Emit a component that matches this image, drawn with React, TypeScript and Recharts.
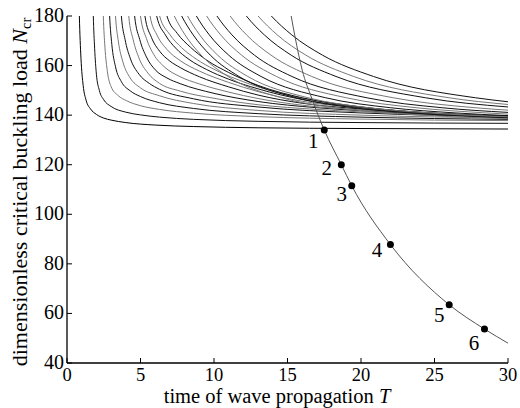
import React from "react";
import { ComposedChart, Line, XAxis, YAxis, LabelList } from "recharts";

const serif = '"Liberation Serif", "Times New Roman", serif';

const xTicks = [0, 5, 10, 15, 20, 25, 30];
const yTicks = [40, 60, 80, 100, 120, 140, 160, 180];

// buckling mode curves, [T, Ncr] pairs
const mode01 = [[0.8, 190], [0.84, 180], [0.95, 163], [1.1, 152], [1.3, 146], [1.6, 142.5], [2, 140.3], [2.5, 138.8], [3, 138], [4, 137], [6, 136], [8.6, 135.4], [13, 134.9], [20, 134.6], [30, 134.4]];
const mode02 = [[1.75, 190], [1.79, 180], [1.88, 167], [2.0, 156.5], [2.2, 150], [2.5, 146.2], [3, 143.5], [4, 141.2], [5, 140.1], [6.3, 139.2], [8.6, 138.3], [13, 137.5], [20, 137], [30, 136.7]];
const mode03 = [[2.42, 190], [2.47, 180], [2.58, 167.5], [2.75, 157.5], [3, 151.5], [3.5, 147.8], [4.06, 145.8], [5, 143.8], [6.3, 142.3], [8.6, 140.8], [13, 139.4], [20, 138.4], [30, 137.8]];
const mode04 = [[2.83, 190], [2.9, 180], [3.05, 168.5], [3.3, 159.5], [3.7, 153.5], [4.3, 149.8], [5, 147.5], [6.3, 145], [8.6, 142.7], [13, 140.6], [20, 139.2], [30, 138.3]];
const mode05 = [[3.21, 190], [3.3, 180], [3.5, 169.5], [3.8, 161.5], [4.3, 155], [5, 151], [6.3, 147.8], [8.6, 144.7], [13, 141.9], [20, 140], [30, 138.9]];
const mode06 = [[3.59, 190], [3.7, 180], [3.95, 170.5], [4.3, 163], [4.9, 156.5], [5.6, 152.8], [6.3, 150.4], [8.6, 146.6], [13, 143.3], [20, 140.9], [30, 139.4]];
const mode07 = [[4.08, 190], [4.2, 180], [4.5, 170.5], [4.9, 163], [5.5, 157], [6.3, 152.8], [7.7, 149.7], [10, 146.8], [13, 144.2], [17, 142.3], [20, 141.3], [25, 140.2], [30, 139.5]];
const mode08 = [[4.47, 190], [4.6, 180], [4.95, 170.5], [5.4, 163.5], [6, 158.3], [6.8, 155], [7.7, 152.7], [10, 148.8], [13, 145.5], [17, 143], [20, 141.8], [25, 140.4], [30, 139.6]];
const mode09 = [[4.86, 190], [5, 180], [5.4, 171], [5.9, 164.5], [6.6, 159.6], [7.7, 155.5], [9, 152.6], [11, 149.3], [13, 146.7], [16, 144], [20, 142.1], [25, 140.6], [30, 139.6]];
const mode10 = [[5.15, 190], [5.3, 180], [5.75, 171.3], [6.3, 165.8], [7, 161.8], [7.7, 159.2], [9, 155.5], [11, 151.4], [13, 148.1], [16, 144.8], [20, 142.5], [25, 140.7], [30, 139.6]];
const mode11 = [[5.47, 190], [5.65, 180], [6.15, 172], [6.8, 166.5], [7.7, 162], [9, 157.8], [11, 153.2], [13, 149.5], [16, 145.6], [20, 142.9], [25, 140.8], [30, 139.5]];
const mode12 = [[5.9, 190], [6.1, 180], [6.7, 172.3], [7.4, 167], [8.3, 162.5], [9.5, 158.4], [11, 154.5], [13, 150.6], [16, 146.3], [20, 143.1], [25, 140.8], [30, 139.4]];
const mode13 = [[6.07, 190], [6.3, 180], [7, 172.5], [7.8, 167.2], [8.8, 162.6], [10, 158.5], [11.5, 154.6], [13, 151.4], [16, 146.8], [20, 143.3], [25, 140.8], [30, 139.2]];
const mode14 = [[6.55, 190], [6.8, 180], [7.5, 173], [8.4, 167.4], [9.5, 162.2], [11, 157.2], [13, 152], [16, 147], [20, 143.3], [25, 140.6], [30, 138.9]];
const mode15 = [[6.94, 184.8], [7.3, 180], [8.03, 172.4], [9.13, 164.2], [10.95, 155.6], [14.6, 147], [18.25, 143], [21.9, 140.9], [30, 138.6]];
const mode16 = [[7.41, 184.8], [7.8, 180], [8.58, 172.4], [9.75, 164.2], [11.7, 155.6], [15.6, 147], [19.5, 143], [23.4, 140.9], [30, 139]];
const mode17 = [[7.79, 184.8], [8.2, 180], [9.02, 172.4], [10.25, 164.2], [12.3, 155.6], [16.4, 147], [20.5, 143], [24.6, 140.9], [30, 139.3]];
const mode18 = [[8.36, 184.8], [8.8, 180], [9.68, 172.4], [11, 164.2], [13.2, 155.6], [17.6, 147], [22, 143], [26.4, 140.9], [30, 139.8]];
const mode19 = [[9.03, 184.8], [9.5, 180], [10.45, 172.4], [11.88, 164.2], [14.25, 155.6], [19, 147], [23.75, 143], [28.5, 140.9], [30, 140.4]];
const mode20 = [[9.69, 184.8], [10.2, 180], [11.22, 172.4], [12.75, 164.2], [15.3, 155.6], [20.4, 147], [25.5, 143], [30, 141.1]];
const mode21 = [[10.55, 184.8], [11.1, 180], [12.21, 172.4], [13.88, 164.2], [16.65, 155.6], [22.2, 147], [27.75, 143], [30, 142]];
const mode22 = [[11.59, 184.8], [12.2, 180], [13.42, 172.4], [15.25, 164.2], [18.3, 155.6], [24.4, 147], [30, 143.3]];
const mode23 = [[12.35, 184.8], [13, 180], [14.3, 172.4], [16.25, 164.2], [19.5, 155.6], [26, 147], [30, 144.3]];
const mode24 = [[13.2, 184.8], [13.9, 180], [15.29, 172.4], [17.38, 164.2], [20.85, 155.6], [27.8, 147], [30, 145.4]];

const modeCurves = [
  mode01, mode02, mode03, mode04, mode05, mode06, mode07, mode08, mode09, mode10, mode11, mode12,
  mode13, mode14, mode15, mode16, mode17, mode18, mode19, mode20, mode21, mode22, mode23, mode24,
];
const modeColors = [
  "#000", "#111", "#777", "#111", "#777", "#111", "#777", "#111", "#777", "#111", "#777", "#111",
  "#777", "#111", "#777", "#111", "#777", "#111", "#777", "#111", "#777", "#111", "#777", "#111",
];

// critical load vs. propagation time
const loadCurve = [[15.13, 184], [15.25, 180], [15.5, 172], [16, 158.2], [16.65, 146.8], [17.5, 134], [18.66, 120], [19.37, 111.5], [22, 87.8], [26, 63.5], [28.4, 53.7], [30, 48]];

const markT = [17.5, 18.66, 19.37, 22.0, 26.0, 28.4];
const markN = [134, 120, 111.5, 87.8, 63.5, 53.7];
const markLabels = ["1", "2", "3", "4", "5", "6"];
// label offsets from the dot (dx, baseline dy)
const labelDx = [-11, -14.5, -10, -13.5, -10, -10.5];
const labelDy = [17.5, 10, 15, 12.5, 17.5, 20.5];

const toRows = (pts: number[][]) => pts.map(([t, n]) => ({ t, n }));
const markRows = markT.map((t, i) => ({ t, n: markN[i], label: markLabels[i] }));

const BottomTick = ({ x, y, payload }: any) => (
  <g>
    <line x1={x} y1={y} x2={x} y2={y - 5} stroke="#000" />
    <text x={x} y={y + 18} textAnchor="middle" fontFamily={serif} fontSize={18.5} fill="#000">
      {payload.value}
    </text>
  </g>
);
const TopTick = ({ x, y }: any) => <line x1={x} y1={y} x2={x} y2={y + 5} stroke="#000" />;
const LeftTick = ({ x, y, payload }: any) => (
  <g>
    <line x1={x} y1={y} x2={x + 5} y2={y} stroke="#000" />
    <text x={x - 3} y={y + 6} textAnchor="end" fontFamily={serif} fontSize={20} fill="#000">
      {payload.value}
    </text>
  </g>
);
const RightTick = ({ x, y }: any) => <line x1={x} y1={y} x2={x - 5} y2={y} stroke="#000" />;

const MarkLabel = (props: any) => {
  const { x, y, value, index } = props;
  return (
    <text x={x + labelDx[index]} y={y + labelDy[index]} textAnchor="middle" fontFamily={serif} fontSize={21} fill="#000">
      {value}
    </text>
  );
};

export default function App() {
  return (
    <div style={{ position: "absolute", left: 0, top: 0, width: 520, height: 408, background: "#fff" }}>
      <ComposedChart width={520} height={408} margin={{ top: 16, right: 12, bottom: 0, left: 0 }}>
        <XAxis
          dataKey="t"
          type="number"
          domain={[0, 30]}
          ticks={xTicks}
          interval={0}
          allowDataOverflow
          height={45}
          tickSize={0}
          tickMargin={0}
          tick={BottomTick}
          axisLine={{ stroke: "#000", strokeWidth: 1.3 }}
        />
        <XAxis
          xAxisId="top"
          orientation="top"
          type="number"
          domain={[0, 30]}
          ticks={xTicks}
          interval={0}
          height={0}
          tickSize={0}
          tickMargin={0}
          tick={TopTick}
          axisLine={{ stroke: "#000", strokeWidth: 1.3 }}
        />
        <YAxis
          type="number"
          domain={[40, 180]}
          ticks={yTicks}
          interval={0}
          allowDataOverflow
          width={67}
          tickSize={0}
          tickMargin={0}
          tick={LeftTick}
          axisLine={{ stroke: "#000", strokeWidth: 1.3 }}
        />
        <YAxis
          yAxisId="right"
          orientation="right"
          type="number"
          domain={[40, 180]}
          ticks={yTicks}
          interval={0}
          width={0}
          tickSize={0}
          tickMargin={0}
          tick={RightTick}
          axisLine={{ stroke: "#000", strokeWidth: 1.3 }}
        />
        {modeCurves.map((c, i) => (
          <Line
            key={i}
            data={toRows(c)}
            dataKey="n"
            type="monotone"
            stroke={modeColors[i]}
            strokeWidth={1}
            dot={false}
            isAnimationActive={false}
          />
        ))}
        <Line
          data={toRows(loadCurve)}
          dataKey="n"
          type="monotone"
          stroke="#555"
          strokeWidth={1}
          dot={false}
          isAnimationActive={false}
        />
        <Line
          data={markRows}
          dataKey="n"
          stroke="none"
          dot={{ r: 3.5, fill: "#000", stroke: "none" }}
          isAnimationActive={false}
        >
          <LabelList dataKey="label" content={MarkLabel} />
        </Line>
      </ComposedChart>
      <svg width={520} height={408} style={{ position: "absolute", left: 0, top: 0, pointerEvents: "none" }}>
        <text transform="translate(27,192) rotate(-90)" textAnchor="middle" fontFamily={serif} fontSize={22} fill="#000">
          dimensionless critical buckling load <tspan fontStyle="italic">N</tspan>
          <tspan fontSize={14.5} dy={4}>cr</tspan>
        </text>
        <text x={277} y={403} textAnchor="middle" fontFamily={serif} fontSize={20.5} fill="#000">
          time of wave propagation <tspan fontStyle="italic">T</tspan>
        </text>
      </svg>
    </div>
  );
}
